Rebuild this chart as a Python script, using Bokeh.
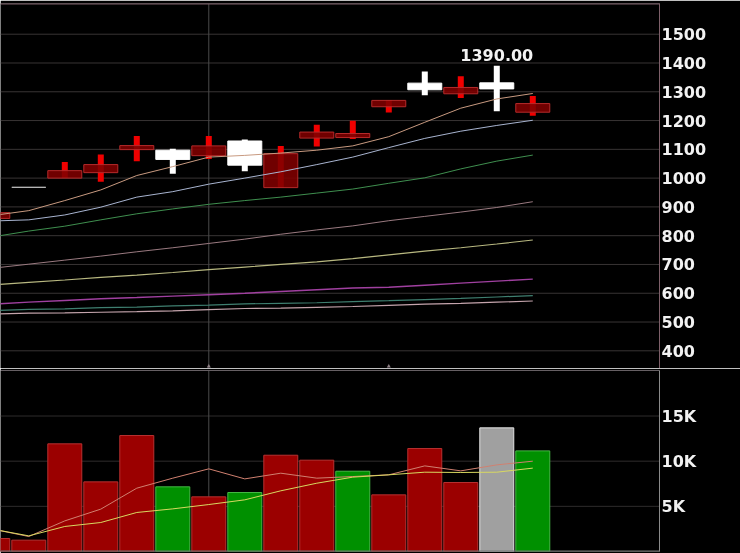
from bokeh.embed import file_html
from bokeh.layouts import column
from bokeh.models import ColumnDataSource, FixedTicker, LinearAxis, Span
from bokeh.plotting import figure
from bokeh.core.properties import value
from bokeh.resources import INLINE

# candles, one per session (first one is cut off by the left edge)
sessions = list(range(16))
opens = [860, 968, 1000, 1019, 1099, 1097, 1078, 1129, 967, 1139, 1141, 1248, 1330, 1293, 1331, 1229]
closes = [880, 968, 1026, 1047, 1113, 1065, 1112, 1045, 1085, 1160, 1155, 1270, 1307, 1315, 1310, 1259]
highs = [880, 968, 1056, 1082, 1146, 1102, 1146, 1134, 1112, 1185, 1199, 1270, 1370, 1354, 1390, 1285]
lows = [860, 968, 1000, 987, 1059, 1015, 1066, 1024, 967, 1110, 1136, 1228, 1288, 1278, 1232, 1217]

# moving averages on the price panel
ma1 = [870, 887, 922, 959, 1009, 1040, 1073, 1079, 1087, 1097, 1112, 1144, 1194, 1243, 1275, 1294]
ma2 = [851, 855, 872, 899, 934, 953, 979, 1000, 1022, 1047, 1073, 1106, 1138, 1163, 1183, 1201]
ma3 = [796, 816, 833, 855, 876, 893, 909, 922, 934, 948, 962, 982, 1001, 1032, 1059, 1080]
ma4 = [687, 701, 715, 729, 744, 758, 773, 788, 805, 820, 834, 852, 867, 882, 898, 918]
ma5 = [629, 638, 646, 655, 663, 672, 682, 691, 700, 709, 720, 733, 746, 758, 771, 785]
ma6 = [562, 569, 575, 581, 585, 590, 595, 600, 606, 612, 618, 621, 628, 635, 642, 649]
ma7 = [540, 544, 546, 550, 552, 556, 559, 563, 565, 567, 571, 574, 578, 582, 587, 592]
ma8 = [528, 531, 532, 534, 536, 539, 543, 547, 548, 551, 554, 558, 562, 565, 569, 573]

# volume panel
volumes = [1440, 1255, 11920, 7710, 12840, 7160, 6050, 6530, 10660, 10110, 8890, 6270, 11400, 7640, 13690, 11140]
volume_state = ["up", "up", "up", "up", "up", "down", "up", "down", "up", "up", "down", "up", "up", "up", "flat", "down"]
vol_ma1 = [2470, 1660, 3390, 4690, 7010, 8120, 9150, 8040, 8670, 8120, 8300, 8490, 9480, 8930, 9590, 10000]
vol_ma2 = [2470, 1730, 2770, 3210, 4320, 4720, 5200, 5720, 6720, 7560, 8230, 8490, 8780, 8750, 8780, 9230]

price_ticks = [400, 500, 600, 700, 800, 900, 1000, 1100, 1200, 1300, 1400, 1500]
volume_ticks = [5000, 10000, 15000]
volume_labels = ["5K", "10K", "15K"]
peak_label = "1390.00"
cursor_session = 6
event_sessions = [6, 11]
event_price = 346

X_RANGE = (0.214, 18.52)
PRICE_RANGE = (338.5, 1606.7)
VOLUME_RANGE = (0, 20040)
FONT = "DejaVu Sans"


def base_figure(height, y_range, top, bottom, ticks, grid_color, axis_color):
    f = figure(width=740, height=height, x_range=X_RANGE, y_range=y_range,
               output_backend="svg", toolbar_location=None, x_axis_location=None,
               y_axis_location=None, min_border_left=0, min_border_right=81,
               min_border_top=top, min_border_bottom=bottom,
               background_fill_color="black", border_fill_color="black",
               outline_line_color=None)
    f.xgrid.visible = False
    f.ygrid.visible = False
    axis = LinearAxis(ticker=FixedTicker(ticks=ticks))
    axis.axis_line_color = axis_color
    axis.major_tick_line_color = None
    axis.minor_tick_line_color = None
    axis.major_tick_out = 0
    axis.major_label_standoff = 2
    axis.major_label_text_color = "#f2f2f2"
    axis.major_label_text_font = FONT
    axis.major_label_text_font_style = "bold"
    axis.major_label_text_font_size = "16px"
    f.add_layout(axis, "right")
    # grid and cursor sit behind the marks
    for t in ticks:
        f.add_layout(Span(location=t, dimension="width", line_color=grid_color, line_width=1, level="underlay"))
    f.add_layout(Span(location=cursor_session, dimension="height", line_color="#4a4a4a", line_width=1, level="underlay"))
    return f


# price panel
top = base_figure(368, PRICE_RANGE, 3, 0, price_ticks, "#383434", "#7d5f69")
top.add_layout(Span(location=PRICE_RANGE[1], dimension="width", line_color="#7d5f69", line_width=2))
top.add_layout(Span(location=PRICE_RANGE[0], dimension="width", line_color="#8d6f79", line_width=1))

wick_colors = []
body_fills = []
body_lines = []
for o, c in zip(opens, closes):
    if c > o:
        wick_colors.append("#f00000")
        body_fills.append("#800000e0")  # the red wick shows faintly through
        body_lines.append("#b52a2a")
    elif c < o:
        wick_colors.append("white")
        body_fills.append("white")
        body_lines.append("white")
    else:
        wick_colors.append("#bbbbbb")
        body_fills.append("#bbbbbb")
        body_lines.append("#bbbbbb")

candles = ColumnDataSource(data=dict(x=sessions, open=opens, close=closes, high=highs, low=lows,
                                     wick=wick_colors, fill=body_fills, edge=body_lines))
top.segment("x", "low", "x", "high", source=candles, line_color="wick", line_width=6)
top.vbar(x="x", bottom="open", top="close", width=0.944, source=candles,
         fill_color="fill", line_color="edge", line_width=1)

for series, color, w in [(ma8, "#c4a4ac", 1.2), (ma7, "#3f7f70", 1.2), (ma6, "#a040a0", 1.4), (ma5, "#b8b880", 1.2),
                         (ma4, "#9a7a80", 1), (ma3, "#3f8f4f", 1), (ma2, "#a8b4d0", 1), (ma1, "#c89a80", 1)]:
    top.line(sessions, series, line_color=color, line_width=w)

peak = highs.index(max(highs))
top.text([sessions[peak]], [highs[peak]], text=[peak_label], text_align="center",
         text_baseline="bottom", y_offset=-5, text_color="#f2f2f2",
         text_font=value(FONT), text_font_style="bold", text_font_size="16px")
top.scatter(event_sessions, [event_price] * len(event_sessions), marker="triangle", size=4,
            fill_color="#8d7f85", line_color=None)

# volume panel
bottom = base_figure(185, VOLUME_RANGE, 2, 2, volume_ticks, "#2e2c2c", "#8a8a8a")
bottom.yaxis.major_label_overrides = dict(zip(volume_ticks, volume_labels))
bottom.add_layout(Span(location=VOLUME_RANGE[1], dimension="width", line_color="#8d8088", line_width=1))
bottom.add_layout(Span(location=VOLUME_RANGE[0], dimension="width", line_color="#777777", line_width=2))

fills = {"up": "#9b0000", "down": "#009000", "flat": "#a0a0a0"}
edges = {"up": "#b83030", "down": "#45b845", "flat": "#e2e2e2"}
vol_source = ColumnDataSource(data=dict(x=sessions, volume=volumes,
                                        fill=[fills[s] for s in volume_state],
                                        edge=[edges[s] for s in volume_state]))
bottom.vbar(x="x", bottom=0, top="volume", width=0.944, source=vol_source,
            fill_color="fill", line_color="edge", line_width=1)
bottom.line(sessions, vol_ma1, line_color="#d08070", line_width=1)
bottom.line(sessions, vol_ma2, line_color="#d8d860", line_width=1)

# the chart fills the whole window in the reference, so pin it over the page margin
page = column(top, bottom, spacing=0,
              stylesheets=[":host { position: fixed !important; left: 0; top: 0; }"])

open("out.html", "w").write(file_html(page, INLINE))
